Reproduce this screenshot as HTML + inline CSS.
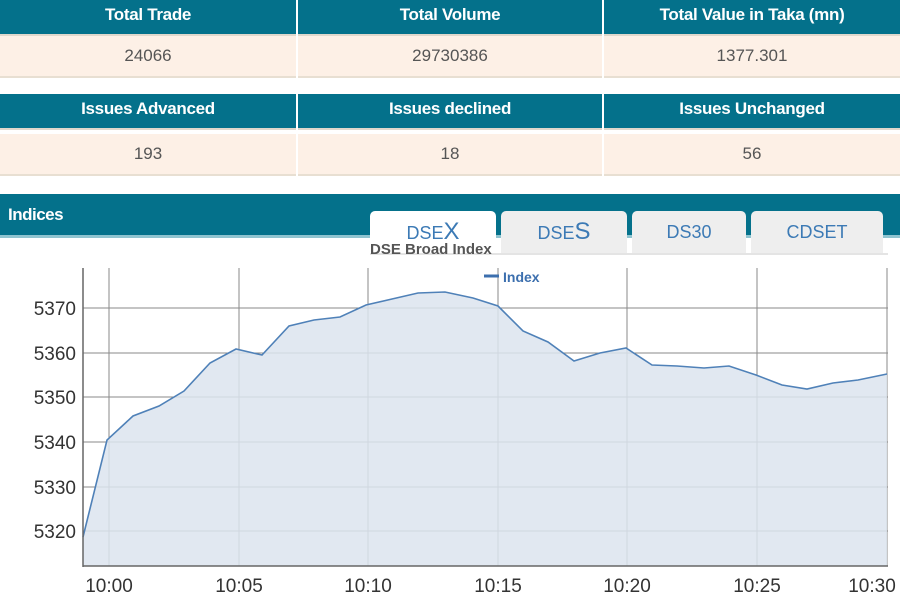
<!DOCTYPE html>
<html><head><meta charset="utf-8"><style>
body{margin:0;width:900px;height:600px;overflow:hidden;background:#fff;font-family:"Liberation Sans",Arial,sans-serif;position:relative}
.h{position:absolute;height:34px;background:#04718b;color:#fff;font-size:17px;font-weight:bold;letter-spacing:-0.3px;line-height:30px;text-align:center;border-bottom:2px solid #e0d8cc}
.v{position:absolute;height:40px;background:#fdf0e6;color:#555;font-size:17px;line-height:40px;text-align:center;border-bottom:2px solid #e8dfd2}
.tab{position:absolute;top:211px;height:42px;background:#eeeeee;border-radius:5px 5px 0 0;color:#3c7ab5;font-size:18px;text-align:center;line-height:42px}
</style></head><body>
<div class="h" style="left:0;top:0;width:296px">Total Trade</div>
<div class="h" style="left:298px;top:0;width:304px">Total Volume</div>
<div class="h" style="left:604px;top:0;width:296px">Total Value in Taka (mn)</div>
<div class="v" style="left:0;top:36px;width:296px">24066</div>
<div class="v" style="left:298px;top:36px;width:304px">29730386</div>
<div class="v" style="left:604px;top:36px;width:296px">1377.301</div>
<div class="h" style="left:0;top:94px;width:296px">Issues Advanced</div>
<div class="h" style="left:298px;top:94px;width:304px">Issues declined</div>
<div class="h" style="left:604px;top:94px;width:296px">Issues Unchanged</div>
<div class="v" style="left:0;top:134px;width:296px">193</div>
<div class="v" style="left:298px;top:134px;width:304px">18</div>
<div class="v" style="left:604px;top:134px;width:296px">56</div>
<div style="position:absolute;left:0;top:194px;width:900px;height:41px;background:#04718b;border-bottom:3px solid #8fc4d0"></div>
<div style="position:absolute;left:8px;top:205px;color:#fff;font-weight:bold;font-size:17px;letter-spacing:-0.5px">Indices</div>
<div class="tab" style="left:370px;width:126px;background:#fff">DSE<span style="font-size:24px">X</span></div>
<div class="tab" style="left:501px;width:126px">DSE<span style="font-size:24px">S</span></div>
<div class="tab" style="left:632px;width:114px">DS30</div>
<div class="tab" style="left:751px;width:132px">CDSET</div>
<div style="position:absolute;left:370px;top:253px;width:518px;height:2px;background:#e4e4e4"></div>
<svg style="position:absolute;left:0;top:0" width="900" height="600">
<g stroke="#8a8a8a" stroke-width="1">
<line x1="83" y1="308" x2="888" y2="308"/><line x1="83" y1="353" x2="888" y2="353"/><line x1="83" y1="397" x2="888" y2="397"/><line x1="83" y1="442" x2="888" y2="442"/><line x1="83" y1="487" x2="888" y2="487"/><line x1="83" y1="531" x2="888" y2="531"/>
<line x1="109" y1="268" x2="109" y2="566"/><line x1="239" y1="268" x2="239" y2="566"/><line x1="368" y1="268" x2="368" y2="566"/><line x1="498" y1="268" x2="498" y2="566"/><line x1="627" y1="268" x2="627" y2="566"/><line x1="757" y1="268" x2="757" y2="566"/><line x1="887" y1="268" x2="887" y2="566"/>
</g>
<polygon fill="#dce4ee" fill-opacity="0.85" points="83,566 83,537 107,440 133,416 159,406 184,391 210,363 236,349 262,355 289,326 314,320 340,317 366,305 392,299 418,293 445,292 473,298 498,306 523,331 548,342 574,361 600,353 626,348 652,365 677,366 704,368 729,366 756,375 782,385 807,389 833,383 858,380 887,374 887,566"/>
<polyline fill="none" stroke="#4f81b8" stroke-width="1.6" points="83,537 107,440 133,416 159,406 184,391 210,363 236,349 262,355 289,326 314,320 340,317 366,305 392,299 418,293 445,292 473,298 498,306 523,331 548,342 574,361 600,353 626,348 652,365 677,366 704,368 729,366 756,375 782,385 807,389 833,383 858,380 887,374"/>
<line x1="83" y1="268" x2="83" y2="567" stroke="#666" stroke-width="1.5"/>
<line x1="83" y1="566" x2="888" y2="566" stroke="#666" stroke-width="1.5"/>
<g font-size="19" fill="#333" text-anchor="end">
<text x="76" y="315">5370</text><text x="76" y="360">5360</text><text x="76" y="404">5350</text><text x="76" y="449">5340</text><text x="76" y="494">5330</text><text x="76" y="538">5320</text>
</g>
<g font-size="19" fill="#333" text-anchor="middle">
<text x="109" y="592">10:00</text><text x="239" y="592">10:05</text><text x="368" y="592">10:10</text><text x="498" y="592">10:15</text><text x="627" y="592">10:20</text><text x="757" y="592">10:25</text><text x="872" y="592">10:30</text>
</g>
<text x="370" y="254" font-size="15" font-weight="bold" fill="#555">DSE Broad Index</text>
<line x1="484" y1="276" x2="499" y2="276" stroke="#3c6fae" stroke-width="3"/>
<text x="503" y="282" font-size="14" font-weight="bold" fill="#3c6fae">Index</text>
</svg>
</body></html>
